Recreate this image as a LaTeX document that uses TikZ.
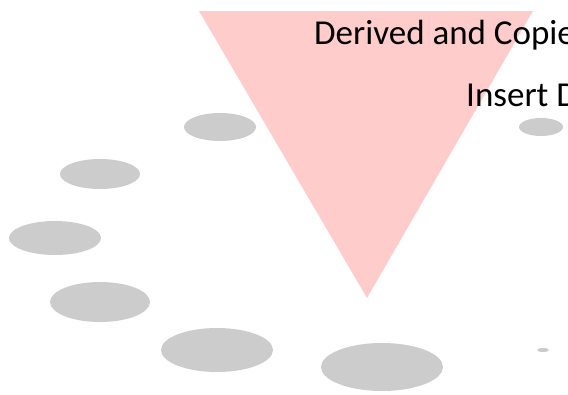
\documentclass[tikz,border=0pt]{standalone}
\usepackage{fontspec}
\setmainfont{Carlito}
\definecolor{wedgepink}{HTML}{FFCCCC}
\definecolor{blobgray}{HTML}{CCCCCC}
\begin{document}
\begin{tikzpicture}[x=1pt,y=-1pt]
  \useasboundingbox (0,0) rectangle (568,394);
  \clip (0,0) rectangle (568,394);
  \fill[wedgepink] (199,11) -- (533,11) -- (367,298) -- cycle;
  \fill[blobgray] (220,127) ellipse (36 and 14);
  \fill[blobgray] (100,174) ellipse (40 and 15);
  \fill[blobgray] (55,238) ellipse (46 and 17);
  \fill[blobgray] (100,302) ellipse (50 and 20);
  \fill[blobgray] (217,350) ellipse (56 and 22);
  \fill[blobgray] (382,367) ellipse (61 and 24);
  \fill[blobgray] (541,127) ellipse (22 and 9);
  \fill[blobgray] (543,350) ellipse (6 and 2);
  \node[anchor=base west,inner sep=0pt,font=\fontsize{35}{38}\selectfont] (derived) at (314,44) {Derived and Copie};
  \node[anchor=base west,inner sep=0pt,font=\fontsize{35}{38}\selectfont] (insert) at (466,106) {Insert D};
\end{tikzpicture}
\end{document}
